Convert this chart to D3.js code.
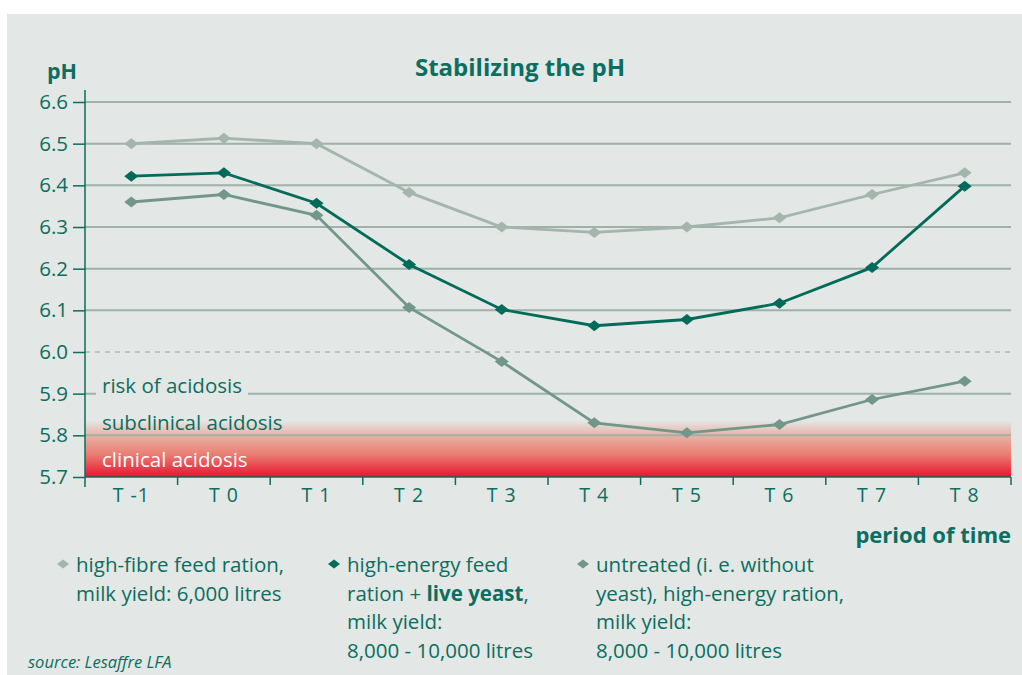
<!DOCTYPE html>
<html>
<head>
<meta charset="utf-8">
<script src="https://cdn.jsdelivr.net/npm/d3@7"></script>
<style>
  body { margin: 0; background: #fff; }
  svg { display: block; font-family: "Open Sans", "Noto Sans", sans-serif; }
</style>
</head>
<body>
<svg id="chart"></svg>
<script>
const periods = ["T -1", "T 0", "T 1", "T 2", "T 3", "T 4", "T 5", "T 6", "T 7", "T 8"];
const highFibre = [6.50, 6.513, 6.50, 6.383, 6.30, 6.287, 6.30, 6.322, 6.378, 6.43];
const liveYeast = [6.422, 6.43, 6.357, 6.21, 6.102, 6.063, 6.078, 6.117, 6.203, 6.398];
const untreated = [6.36, 6.378, 6.328, 6.107, 5.977, 5.83, 5.806, 5.826, 5.886, 5.93];
const yTicks = [5.7, 5.8, 5.9, 6.0, 6.1, 6.2, 6.3, 6.4, 6.5, 6.6];

const W = 1022, H = 675;
const margin = { top: 102, right: 11, bottom: 198, left: 85 };
const width = W - margin.left - margin.right;
const height = H - margin.top - margin.bottom;

const teal = "#0b6e5f";
const gridCol = "#9fb1a9";
const panel = "#e3e7e5";

const svgRoot = d3.select("#chart").attr("width", W).attr("height", H);

// panel
svgRoot.append("rect").attr("x", 7).attr("y", 14).attr("width", W - 7).attr("height", H - 14).attr("fill", panel);

const defs = svgRoot.append("defs");
const grad = defs.append("linearGradient").attr("id", "acid").attr("x1", 0).attr("y1", 0).attr("x2", 0).attr("y2", 1);
grad.append("stop").attr("offset", "0%").attr("stop-color", panel);
grad.append("stop").attr("offset", "25%").attr("stop-color", "#e9b3a8");
grad.append("stop").attr("offset", "60%").attr("stop-color", "#ea7d72");
grad.append("stop").attr("offset", "100%").attr("stop-color", "#e8142e");

const svg = svgRoot.append("g").attr("transform", `translate(${margin.left},${margin.top})`);

const x = d3.scaleBand().domain(periods).range([0, width]);
const y = d3.scaleLinear().domain([5.7, 6.6]).range([height, 0]);

// acidosis band
svg.append("rect")
  .attr("x", 0).attr("width", width)
  .attr("y", y(5.835)).attr("height", y(5.7) - y(5.835))
  .attr("fill", "url(#acid)");

// grid lines
yTicks.filter(d => d !== 5.7 && d !== 6.0).forEach(t => {
  svg.append("line")
    .attr("x1", 0).attr("x2", width)
    .attr("y1", y(t)).attr("y2", y(t))
    .attr("stroke", gridCol).attr("stroke-width", 2);
});
svg.append("line")
  .attr("x1", 0).attr("x2", width)
  .attr("y1", y(6.0)).attr("y2", y(6.0))
  .attr("stroke", "#8fa59c").attr("stroke-width", 1)
  .attr("stroke-dasharray", "5,5");

// zone labels
svg.append("rect")
  .attr("x", 11).attr("y", y(5.9) - 3).attr("width", 152).attr("height", 6)
  .attr("fill", panel);
svg.append("text")
  .attr("x", 17).attr("y", y(5.9) - 1)
  .attr("fill", teal).attr("font-size", 20.5)
  .text("risk of acidosis");
svg.append("text")
  .attr("x", 17).attr("y", y(5.8) - 5)
  .attr("fill", teal).attr("font-size", 20.5)
  .text("subclinical acidosis");
svg.append("text")
  .attr("x", 17).attr("y", y(5.7) - 10)
  .attr("fill", "#fff").attr("font-size", 20.5)
  .text("clinical acidosis");

// axes
const yAxis = svg.append("g")
  .call(d3.axisLeft(y).tickValues(yTicks).tickFormat(d3.format(".1f")).tickSize(12).tickSizeOuter(0));
yAxis.select(".domain").remove();
yAxis.selectAll(".tick line").attr("stroke", teal).attr("stroke-width", 1.5);
yAxis.selectAll(".tick text").attr("fill", teal).attr("font-size", 20.5).attr("x", -17)
  .attr("font-family", "Open Sans, sans-serif");
svg.append("line").attr("x1", 0).attr("x2", 0).attr("y1", -12).attr("y2", height + 10)
  .attr("stroke", teal).attr("stroke-width", 1.5);

const xAxis = svg.append("g").attr("transform", `translate(0,${height})`)
  .call(d3.axisBottom(x).tickSize(0));
xAxis.select(".domain").remove();
xAxis.selectAll(".tick text").attr("fill", teal).attr("font-size", 19.5).attr("dy", "1.15em")
  .attr("letter-spacing", "1px").attr("font-family", "Open Sans, sans-serif");
svg.append("line").attr("x1", 0).attr("x2", width).attr("y1", height).attr("y2", height)
  .attr("stroke", teal).attr("stroke-width", 1.5);
svg.selectAll(".xsep")
  .data(periods.slice(1).concat(["end"]))
  .join("line")
  .attr("x1", (d, i) => x.step() * (i + 1)).attr("x2", (d, i) => x.step() * (i + 1))
  .attr("y1", height).attr("y2", height + 8)
  .attr("stroke", teal).attr("stroke-width", 1.5);

// series
const series = [
  { name: "fibre", values: highFibre, color: "#a3b5ad" },
  { name: "untreated", values: untreated, color: "#72978a" },
  { name: "yeast", values: liveYeast, color: "#006b5a" }
];
const line = d3.line()
  .x((d, i) => x(periods[i]) + x.bandwidth() / 2)
  .y(d => y(d));
const diamond = (cx, cy, w, h) => `M${cx - w},${cy}L${cx},${cy - h}L${cx + w},${cy}L${cx},${cy + h}Z`;

series.forEach(s => {
  svg.append("path")
    .attr("d", line(s.values))
    .attr("fill", "none")
    .attr("stroke", s.color)
    .attr("stroke-width", 2.8);
  svg.selectAll(".m-" + s.name)
    .data(s.values)
    .join("path")
    .attr("d", (d, i) => diamond(x(periods[i]) + x.bandwidth() / 2, y(d), 7, 5.5))
    .attr("fill", s.color);
});

// titles
svgRoot.append("text").attr("x", 520).attr("y", 76).attr("text-anchor", "middle")
  .attr("fill", teal).attr("font-size", 24).attr("font-weight", "bold")
  .text("Stabilizing the pH");
svgRoot.append("text").attr("x", 62).attr("y", 79).attr("text-anchor", "middle")
  .attr("fill", teal).attr("font-size", 21.5).attr("font-weight", "bold")
  .text("pH");
svgRoot.append("text").attr("x", 1011).attr("y", 543).attr("text-anchor", "end")
  .attr("fill", teal).attr("font-size", 22).attr("font-weight", "bold")
  .text("period of time");

// legend
const legendItems = [
  { color: "#a3b5ad", x: 63, lines: [["high-fibre feed ration,"], ["milk yield: 6,000 litres"]] },
  { color: "#006b5a", x: 334, lines: [["high-energy feed"], ["ration + ", ["live yeast", true], ","], ["milk yield:"], ["8,000 - 10,000 litres"]] },
  { color: "#72978a", x: 583, lines: [["untreated (i. e. without"], ["yeast), high-energy ration,"], ["milk yield:"], ["8,000 - 10,000 litres"]] }
];
legendItems.forEach(item => {
  const g = svgRoot.append("g");
  g.append("path").attr("d", diamond(item.x, 564, 6, 4.5)).attr("fill", item.color);
  item.lines.forEach((ln, li) => {
    const t = g.append("text").attr("x", item.x + 13).attr("y", 572 + li * 28.5)
      .attr("fill", teal).attr("font-size", 20.5);
    ln.forEach(part => {
      if (Array.isArray(part)) t.append("tspan").attr("font-weight", "bold").text(part[0]);
      else t.append("tspan").text(part);
    });
  });
});

svgRoot.append("text").attr("x", 28).attr("y", 668)
  .attr("fill", teal).attr("font-size", 16.5).attr("font-style", "italic")
  .text("source: Lesaffre LFA");
</script>
</body>
</html>
